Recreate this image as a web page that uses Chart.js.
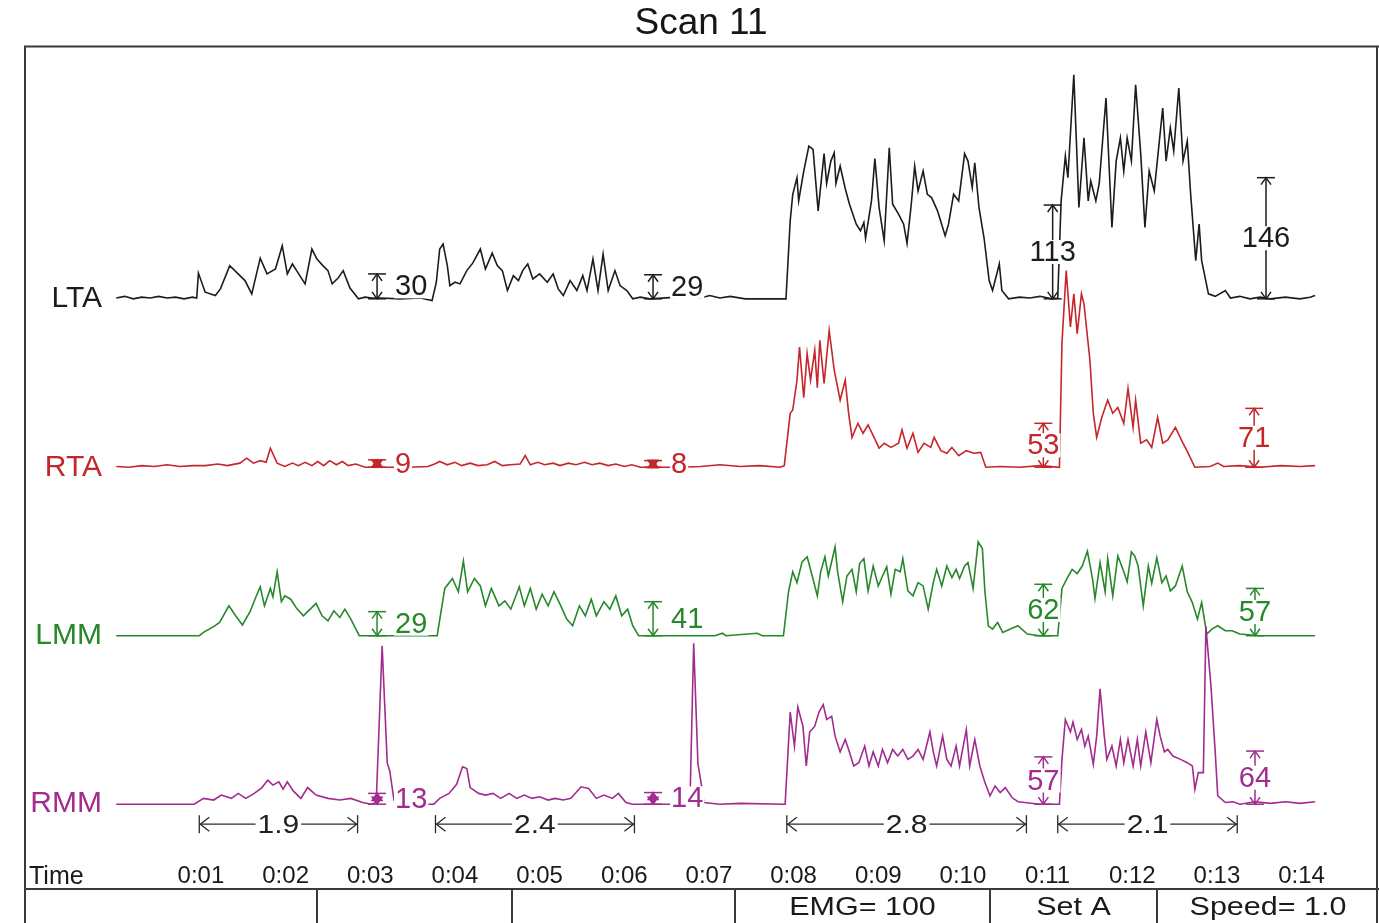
<!DOCTYPE html>
<html>
<head>
<meta charset="utf-8">
<title>Scan 11</title>
<script src="https://cdn.jsdelivr.net/npm/chart.js@4.4.1/dist/chart.umd.min.js"></script>
<style>
  html, body { margin: 0; padding: 0; background: #fff; }
  #wrap { width: 1379px; height: 923px; }
</style>
</head>
<body>
<div id="wrap"><canvas id="emg-chart"></canvas></div>
<script>
'use strict';

// CHANNELS
const channelNames = ['LTA', 'RTA', 'LMM', 'RMM'];
const channelColors = ['#1c1c1c', '#c4262c', '#27882b', '#a22b8e'];

// TIME AXIS LABELS (one per second)
const timeLabels = ['0:01', '0:02', '0:03', '0:04', '0:05', '0:06', '0:07',
  '0:08', '0:09', '0:10', '0:11', '0:12', '0:13', '0:14'];

// LTA trace (seconds / uV)
const ltaTime = [
  0, 0.1, 0.2, 0.3, 0.4, 0.5, 0.6, 0.7, 0.8, 0.9,
  0.95, 0.97, 1.05, 1.17, 1.23, 1.34, 1.46, 1.52, 1.60, 1.70,
  1.78, 1.88, 1.96, 2.02, 2.08, 2.13, 2.23, 2.31, 2.37, 2.44,
  2.50, 2.55, 2.62, 2.68, 2.76, 2.86, 2.94, 3.02, 3.12, 3.35,
  3.59, 3.73, 3.78, 3.82, 3.86, 3.91, 3.94, 4.00, 4.06, 4.14,
  4.21, 4.30, 4.36, 4.44, 4.50, 4.56, 4.62, 4.69, 4.75, 4.80,
  4.86, 4.92, 5.00, 5.09, 5.16, 5.22, 5.28, 5.36, 5.44, 5.51,
  5.56, 5.63, 5.69, 5.75, 5.81, 5.89, 5.95, 6.03, 6.10, 6.19,
  6.30, 6.78, 6.90, 7.01, 7.13, 7.25, 7.43, 7.88, 7.91, 7.96,
  7.99, 8.04, 8.06, 8.12, 8.18, 8.23, 8.29, 8.36, 8.39, 8.44,
  8.48, 8.50, 8.55, 8.61, 8.66, 8.74, 8.79, 8.83, 8.85, 8.92,
  8.96, 9.01, 9.07, 9.13, 9.17, 9.24, 9.30, 9.34, 9.39, 9.43,
  9.47, 9.53, 9.58, 9.63, 9.70, 9.79, 9.83, 9.89, 9.95, 10.02,
  10.06, 10.11, 10.14, 10.19, 10.25, 10.31, 10.35, 10.43, 10.46, 10.54,
  10.67, 10.79, 10.91, 11.05, 11.12, 11.16, 11.21, 11.24, 11.31, 11.37,
  11.43, 11.48, 11.51, 11.57, 11.61, 11.69, 11.76, 11.81, 11.86, 11.90,
  11.94, 11.99, 12.04, 12.10, 12.15, 12.20, 12.26, 12.32, 12.36, 12.40,
  12.45, 12.49, 12.55, 12.60, 12.65, 12.69, 12.75, 12.79, 12.82, 12.90,
  12.98, 13.10, 13.16, 13.27, 13.39, 13.51, 13.63, 13.81, 13.98, 14.10,
  14.16
];
const ltaValue = [
  1, 3, 0, 2, 1, 3, 1, 2, 0, 2,
  1, 31, 8, 4, 12, 40, 28, 22, 6, 49,
  30, 36, 64, 30, 42, 34, 18, 60, 48, 40,
  34, 18, 25, 34, 13, 0, 2, 1, 1, 0,
  1, -2, 20, 60, 66, 40, 16, 20, 18, 34,
  43, 60, 36, 55, 40, 34, 10, 28, 22, 34,
  42, 24, 30, 20, 30, 12, 4, 22, 10, 28,
  10, 48, 10, 54, 10, 34, 16, 10, 0, 2,
  0, 3, 1, 4, 1, 3, 0, 0, 0, 94,
  126, 146, 118, 154, 184, 180, 106, 175, 139, 166,
  176, 139, 160, 133, 114, 90, 82, 92, 73, 118,
  169, 110, 70, 182, 114, 102, 90, 67, 114, 160,
  130, 154, 126, 122, 106, 76, 90, 126, 118, 175,
  166, 134, 164, 110, 73, 22, 10, 42, 10, 0,
  2, 1, 3, 0, 1, 118, 172, 146, 270, 110,
  194, 118, 142, 118, 139, 242, 86, 166, 194, 154,
  194, 166, 258, 175, 86, 154, 130, 190, 230, 166,
  206, 178, 254, 166, 190, 126, 46, 90, 46, 6,
  3, 10, 1, 3, 0, 2, 0, 2, 0, 2,
  4
];

// RTA trace
const rtaTime = [
  0, 0.15, 0.3, 0.45, 0.6, 0.75, 0.9, 1.05, 1.2, 1.31,
  1.46, 1.54, 1.62, 1.70, 1.77, 1.82, 1.90, 1.99, 2.08, 2.15,
  2.23, 2.31, 2.38, 2.45, 2.52, 2.60, 2.67, 2.74, 2.83, 2.94,
  3.12, 3.47, 3.68, 3.76, 3.82, 3.91, 4.00, 4.08, 4.18, 4.27,
  4.38, 4.47, 4.56, 4.65, 4.77, 4.83, 4.89, 4.98, 5.06, 5.16,
  5.24, 5.34, 5.43, 5.53, 5.62, 5.71, 5.81, 5.90, 6.00, 6.09,
  6.19, 6.66, 6.90, 7.13, 7.37, 7.60, 7.84, 7.89, 7.96, 7.99,
  8.04, 8.07, 8.12, 8.16, 8.20, 8.25, 8.28, 8.31, 8.36, 8.42,
  8.48, 8.55, 8.61, 8.65, 8.69, 8.76, 8.82, 8.88, 8.95, 9.01,
  9.07, 9.15, 9.24, 9.28, 9.34, 9.41, 9.47, 9.54, 9.62, 9.66,
  9.74, 9.81, 9.87, 9.95, 10.04, 10.13, 10.21, 10.27, 10.44, 10.67,
  10.91, 11.14, 11.17, 11.22, 11.27, 11.31, 11.35, 11.40, 11.43, 11.50,
  11.54, 11.58, 11.64, 11.71, 11.77, 11.83, 11.90, 11.95, 12.01, 12.04,
  12.10, 12.17, 12.23, 12.30, 12.36, 12.42, 12.51, 12.58, 12.66, 12.74,
  12.92, 13.01, 13.08, 13.27, 13.51, 13.75, 13.98, 14.16
];
const rtaValue = [
  1, 0, 2, 1, 3, 1, 2, 2, 4, 2,
  5, 11, 5, 8, 6, 23, 5, 1, 5, 2,
  6, 2, 7, 2, 8, 3, 7, 2, 4, 0,
  0, 0, 1, 4, 7, 3, 6, 2, 5, 2,
  3, 7, 2, 3, 4, 14, 3, 6, 3, 5,
  2, 5, 3, 6, 3, 5, 2, 4, 1, 3,
  0, 0, 1, 3, 1, 2, 0, 2, 65, 69,
  105, 145, 84, 137, 105, 141, 96, 153, 101, 165,
  117, 81, 105, 65, 36, 53, 41, 51, 36, 23,
  29, 24, 29, 45, 23, 41, 18, 29, 24, 36,
  20, 17, 24, 14, 20, 17, 18, 0, 1, 0,
  2, 0, 150, 237, 169, 209, 161, 209, 197, 129,
  65, 36, 60, 81, 65, 72, 53, 95, 48, 81,
  29, 33, 24, 60, 29, 33, 48, 33, 17, 0,
  1, 5, 1, 2, 0, 2, 1, 2
];

// LMM trace
const lmmTime = [
  0, 0.98, 1.03, 1.15, 1.22, 1.33, 1.41, 1.49, 1.58, 1.65,
  1.70, 1.75, 1.82, 1.85, 1.90, 1.95, 1.99, 2.06, 2.13, 2.21,
  2.26, 2.36, 2.43, 2.50, 2.57, 2.64, 2.70, 2.77, 2.87, 3.79,
  3.88, 3.97, 4.04, 4.10, 4.15, 4.23, 4.30, 4.36, 4.43, 4.52,
  4.59, 4.66, 4.76, 4.82, 4.89, 4.96, 5.03, 5.10, 5.17, 5.25,
  5.32, 5.39, 5.47, 5.54, 5.61, 5.67, 5.76, 5.83, 5.90, 5.97,
  6.04, 6.10, 6.17, 7.07, 7.16, 7.20, 7.57, 7.63, 7.88, 7.94,
  7.99, 8.04, 8.10, 8.16, 8.22, 8.28, 8.32, 8.37, 8.41, 8.49,
  8.52, 8.58, 8.63, 8.69, 8.74, 8.78, 8.83, 8.88, 8.94, 9.00,
  9.05, 9.10, 9.15, 9.20, 9.26, 9.29, 9.35, 9.41, 9.47, 9.53,
  9.59, 9.65, 9.69, 9.75, 9.81, 9.87, 9.92, 9.96, 10.02, 10.06,
  10.12, 10.18, 10.23, 10.26, 10.30, 10.35, 10.41, 10.47, 10.56, 10.65,
  10.76, 10.91, 11.12, 11.17, 11.23, 11.29, 11.35, 11.41, 11.47, 11.53,
  11.56, 11.62, 11.68, 11.71, 11.77, 11.83, 11.89, 11.94, 11.99, 12.03,
  12.07, 12.13, 12.19, 12.23, 12.29, 12.35, 12.40, 12.45, 12.51, 12.59,
  12.65, 12.71, 12.77, 12.82, 12.88, 12.94, 13.01, 13.10, 13.18, 13.27,
  13.51, 14.16
];
const lmmValue = [
  0, 0, 4, 11, 16, 36, 24, 13, 29, 47,
  59, 36, 57, 47, 77, 41, 48, 44, 33, 24,
  29, 39, 24, 18, 30, 22, 32, 20, 0, 0,
  57, 69, 53, 90, 53, 69, 60, 36, 57, 36,
  42, 32, 59, 36, 57, 32, 50, 36, 53, 36,
  20, 12, 36, 24, 44, 24, 41, 32, 48, 24,
  32, 12, 0, 0, 3, 0, 3, 0, 0, 53,
  77, 64, 89, 95, 72, 48, 77, 95, 72, 107,
  77, 41, 72, 80, 53, 87, 93, 54, 84, 60,
  72, 83, 50, 80, 77, 93, 54, 48, 64, 60,
  32, 64, 80, 60, 84, 70, 80, 69, 84, 88,
  57, 113, 105, 53, 12, 8, 16, 4, 8, 12,
  2, 0, 0, 57, 69, 80, 75, 84, 102, 69,
  45, 88, 53, 93, 48, 96, 80, 65, 101, 96,
  84, 36, 84, 63, 94, 64, 72, 54, 60, 84,
  53, 40, 20, 40, 2, 8, 12, 6, 6, 2,
  0, 0
];

// RMM trace
const rmmTime = [
  0, 0.92, 1.03, 1.15, 1.24, 1.36, 1.44, 1.53, 1.63, 1.72,
  1.79, 1.85, 1.92, 1.97, 2.02, 2.09, 2.18, 2.26, 2.36, 2.50,
  2.64, 2.77, 2.91, 3.01, 3.07, 3.14, 3.20, 3.23, 3.28, 3.35,
  3.75, 3.82, 3.93, 4.02, 4.09, 4.14, 4.18, 4.28, 4.36, 4.45,
  4.54, 4.64, 4.73, 4.82, 4.91, 5.00, 5.10, 5.18, 5.28, 5.37,
  5.49, 5.58, 5.67, 5.76, 5.86, 5.93, 6.02, 6.10, 6.75, 6.78,
  6.82, 6.87, 6.91, 6.94, 7.13, 7.37, 7.88, 7.90, 7.96, 8.01,
  8.05, 8.11, 8.15, 8.19, 8.25, 8.30, 8.35, 8.39, 8.45, 8.49,
  8.55, 8.61, 8.65, 8.71, 8.77, 8.84, 8.89, 8.94, 9.00, 9.05,
  9.11, 9.17, 9.23, 9.29, 9.35, 9.41, 9.47, 9.53, 9.61, 9.65,
  9.69, 9.76, 9.81, 9.86, 9.92, 9.96, 10.04, 10.08, 10.14, 10.20,
  10.26, 10.32, 10.38, 10.44, 10.50, 10.58, 10.65, 10.73, 10.91, 11.14,
  11.17, 11.21, 11.27, 11.30, 11.35, 11.40, 11.44, 11.48, 11.54, 11.58,
  11.62, 11.67, 11.70, 11.76, 11.81, 11.86, 11.90, 11.95, 12.01, 12.06,
  12.10, 12.16, 12.22, 12.29, 12.33, 12.38, 12.42, 12.48, 12.57, 12.65,
  12.71, 12.74, 12.78, 12.84, 12.87, 12.93, 12.98, 13.01, 13.10, 13.19,
  13.27, 13.45, 13.63, 13.81, 13.98, 14.16
];
const rmmValue = [
  0, 0, 7, 5, 11, 7, 13, 7, 13, 20,
  29, 23, 27, 18, 27, 16, 7, 20, 11, 7,
  5, 7, 2, 0, 2, 191, 50, 40, 5, 0,
  0, 7, 13, 24, 45, 43, 20, 13, 11, 13,
  7, 13, 7, 11, 7, 9, 5, 7, 5, 7,
  21, 19, 7, 11, 7, 13, 2, 0, 0, 20,
  194, 49, 24, 2, 0, 1, 0, 0, 111, 70,
  117, 94, 46, 87, 94, 111, 120, 102, 106, 82,
  63, 78, 66, 46, 50, 70, 46, 63, 46, 66,
  50, 66, 58, 66, 54, 58, 66, 54, 87, 63,
  46, 82, 54, 46, 70, 46, 90, 46, 78, 46,
  26, 10, 22, 14, 20, 8, 3, 2, 0, 0,
  54, 102, 87, 99, 78, 90, 70, 82, 48, 82,
  139, 82, 54, 70, 46, 78, 50, 78, 46, 78,
  46, 87, 50, 102, 82, 63, 66, 58, 54, 50,
  46, 18, 38, 38, 214, 142, 63, 10, 2, 3,
  0, 3, 1, 3, 1, 3
];

// AMPLITUDE MARKS per channel (time in s, value in uV)
const ltaMarkTime = [3.08, 6.34, 11.06, 13.58];
const ltaMarkValue = [30, 29, 113, 146];
const rtaMarkTime = [3.08, 6.34, 10.95, 13.44];
const rtaMarkValue = [9, 8, 53, 71];
const lmmMarkTime = [3.08, 6.34, 10.95, 13.45];
const lmmMarkValue = [29, 41, 62, 57];
const rmmMarkTime = [3.08, 6.34, 10.95, 13.45];
const rmmMarkValue = [13, 14, 57, 64];

// BURST DURATIONS (s)
const spanStart = [0.98, 3.77, 7.92, 11.12];
const spanEnd = [2.85, 6.12, 10.75, 13.24];
const spanLabel = ['1.9', '2.4', '2.8', '2.1'];

// FOOTER
const footerLabels = ['', '', '', 'EMG= 100', 'Set A', 'Speed= 1.0'];


// GROUP CHANNEL DATA
const channels = [
  { time: ltaTime, value: ltaValue, markTime: ltaMarkTime, markValue: ltaMarkValue },
  { time: rtaTime, value: rtaValue, markTime: rtaMarkTime, markValue: rtaMarkValue },
  { time: lmmTime, value: lmmValue, markTime: lmmMarkTime, markValue: lmmMarkValue },
  { time: rmmTime, value: rmmValue, markTime: rmmMarkTime, markValue: rmmMarkValue }
];

const rowGap = 203;   // uV between channel baselines
const fontFamily = '"Liberation Sans", Arial, Helvetica, sans-serif';

function channelOffset(i) {
  return (channels.length - 1 - i) * rowGap;
}


// HELPER FUNCTIONS FOR DRAWING
function line(ctx, x1, y1, x2, y2) {
  ctx.beginPath();
  ctx.moveTo(x1, y1);
  ctx.lineTo(x2, y2);
  ctx.stroke();
}

function stretchText(ctx, text, x, y, sx) {
  ctx.save();
  ctx.translate(x, y);
  ctx.scale(sx, 1);
  ctx.fillText(text, 0, 0);
  ctx.restore();
}

// vertical double arrow between baseline and value, label to the right or on top
function drawMark(ctx, x, yBase, yTop, label, color, labelRight) {
  ctx.strokeStyle = color;
  ctx.fillStyle = color;
  ctx.lineWidth = 1.5;
  line(ctx, x - 9, yTop, x + 9, yTop);
  line(ctx, x - 9, yBase, x + 9, yBase);
  line(ctx, x, yTop, x, yBase);

  // tiny marks collapse into a filled bow tie
  const tiny = (yBase - yTop) < 14;
  ctx.beginPath();
  ctx.moveTo(x - 5, yTop + 7);
  ctx.lineTo(x, yTop);
  ctx.lineTo(x + 5, yTop + 7);
  if (tiny) { ctx.closePath(); ctx.fill(); }
  ctx.stroke();
  ctx.beginPath();
  ctx.moveTo(x - 5, yBase - 7);
  ctx.lineTo(x, yBase);
  ctx.lineTo(x + 5, yBase - 7);
  if (tiny) { ctx.closePath(); ctx.fill(); }
  ctx.stroke();

  ctx.font = '29px ' + fontFamily;
  ctx.textBaseline = 'middle';
  ctx.textAlign = 'left';
  const w = ctx.measureText(label).width;
  const yMid = (yTop + yBase) / 2;
  const tx = labelRight ? x + 18 : x - w / 2;
  ctx.fillStyle = '#fff';
  ctx.fillRect(tx - 1, yMid - 12, w + 2, 24);
  ctx.fillStyle = color;
  ctx.fillText(label, tx, yMid + 1);
}

// horizontal |<-- n.n -->| duration marker
function drawSpan(ctx, x1, x2, y, label) {
  ctx.strokeStyle = '#2a2a2a';
  ctx.lineWidth = 1.3;
  line(ctx, x1, y, x2, y);
  line(ctx, x1, y - 9, x1, y + 9);
  line(ctx, x2, y - 9, x2, y + 9);
  ctx.beginPath();
  ctx.moveTo(x1 + 10, y - 7);
  ctx.lineTo(x1 + 1, y);
  ctx.lineTo(x1 + 10, y + 7);
  ctx.moveTo(x2 - 10, y - 7);
  ctx.lineTo(x2 - 1, y);
  ctx.lineTo(x2 - 10, y + 7);
  ctx.stroke();

  ctx.font = '25px ' + fontFamily;
  ctx.textBaseline = 'middle';
  ctx.textAlign = 'center';
  const w = ctx.measureText(label).width * 1.2;
  const xm = (x1 + x2) / 2;
  ctx.fillStyle = '#fff';
  ctx.fillRect(xm - w / 2 - 2, y - 11, w + 4, 22);
  ctx.fillStyle = '#222';
  stretchText(ctx, label, xm, y + 2, 1.2);
}


// PLUGIN: background, marks, frame and footer
const emgDecor = {
  id: 'emgDecor',
  beforeDraw(chart) {
    const ctx = chart.ctx;
    ctx.save();
    ctx.fillStyle = '#fff';
    ctx.fillRect(0, 0, chart.width, chart.height);
    ctx.restore();
  },
  afterDatasetsDraw(chart) {
    const ctx = chart.ctx;
    const xs = chart.scales.x;
    const ys = chart.scales.y;
    ctx.save();
    channels.forEach((ch, i) => {
      const off = channelOffset(i);
      const yBase = ys.getPixelForValue(off);
      ch.markTime.forEach((t, j) => {
        const v = ch.markValue[j];
        drawMark(ctx, xs.getPixelForValue(t), yBase, ys.getPixelForValue(off + v),
          String(v), channelColors[i], v < 50);
      });
    });
    const ySpan = ys.getPixelForValue(0) + 20;
    spanStart.forEach((t, k) => {
      drawSpan(ctx, xs.getPixelForValue(t), xs.getPixelForValue(spanEnd[k]), ySpan, spanLabel[k]);
    });
    ctx.restore();
  },
  afterDraw(chart) {
    const ctx = chart.ctx;
    const top = chart.chartArea.top;
    const left = 25;
    const right = 1377;
    const bottom = chart.height;
    const footerTop = 889;
    const cellEdges = [25, 317, 512, 735, 990, 1157, 1379];

    ctx.save();
    ctx.strokeStyle = '#3a3a3a';
    ctx.lineWidth = 2;
    ctx.beginPath();
    ctx.moveTo(left, bottom);
    ctx.lineTo(left, top);
    ctx.lineTo(1379, top);
    ctx.moveTo(right, top);
    ctx.lineTo(right, bottom);
    ctx.moveTo(left, footerTop);
    ctx.lineTo(1379, footerTop);
    for (let i = 1; i < cellEdges.length - 1; i++) {
      ctx.moveTo(cellEdges[i], footerTop);
      ctx.lineTo(cellEdges[i], bottom);
    }
    ctx.stroke();

    ctx.fillStyle = '#1a1a1a';
    ctx.textBaseline = 'middle';
    ctx.textAlign = 'center';
    ctx.font = '25px ' + fontFamily;
    footerLabels.forEach((txt, i) => {
      if (!txt) return;
      stretchText(ctx, txt, (cellEdges[i] + cellEdges[i + 1]) / 2, 908, 1.22);
    });

    ctx.textAlign = 'left';
    ctx.fillText('Time', 29, 877);
    ctx.restore();
  }
};


// CHART
Chart.defaults.font.family = fontFamily;

const datasets = channels.map((ch, i) => ({
  label: channelNames[i],
  data: ch.time.map((t, k) => ({ x: t, y: ch.value[k] + channelOffset(i) })),
  borderColor: channelColors[i],
  borderWidth: 1.6,
  pointRadius: 0,
  fill: false,
  tension: 0,
  order: channels.length - 1 - i
}));

const ctx = document.getElementById('emg-chart');

new Chart(ctx, {
  type: 'line',
  data: { datasets: datasets },
  plugins: [emgDecor],
  options: {
    responsive: true,
    maintainAspectRatio: false,
    animation: false,
    events: [],
    layout: { padding: { left: 25, right: 2, top: 0, bottom: 30 } },
    plugins: {
      legend: { display: false },
      tooltip: { enabled: false },
      title: {
        display: true,
        text: 'Scan 11',
        color: '#161616',
        font: { size: 37, weight: 'normal' },
        padding: { top: 2, bottom: 0 }
      }
    },
    scales: {
      x: {
        type: 'linear',
        min: -0.098,
        max: 14.891,
        grid: { display: false, drawTicks: false },
        border: { display: false },
        afterBuildTicks: (axis) => {
          axis.ticks = timeLabels.map((lbl, i) => ({ value: i + 1 }));
        },
        ticks: {
          autoSkip: false,
          maxRotation: 0,
          padding: 2,
          color: '#1a1a1a',
          font: { size: 24 },
          callback: (value) => timeLabels[value - 1] || ''
        }
      },
      y: {
        min: -67.5,
        max: 913.2,
        grid: { display: false, drawTicks: false },
        border: { display: false },
        afterBuildTicks: (axis) => {
          axis.ticks = channelNames.map((n, i) => ({ value: channelOffset(i) }));
        },
        afterFit: (axis) => { axis.width = 83; },
        ticks: {
          autoSkip: false,
          padding: 6,
          font: { size: 30 },
          color: (c) => channelColors[channels.length - 1 - Math.round(c.tick.value / rowGap)],
          callback: (value) => channelNames[channels.length - 1 - Math.round(value / rowGap)]
        }
      }
    }
  }
});
</script>
</body>
</html>
